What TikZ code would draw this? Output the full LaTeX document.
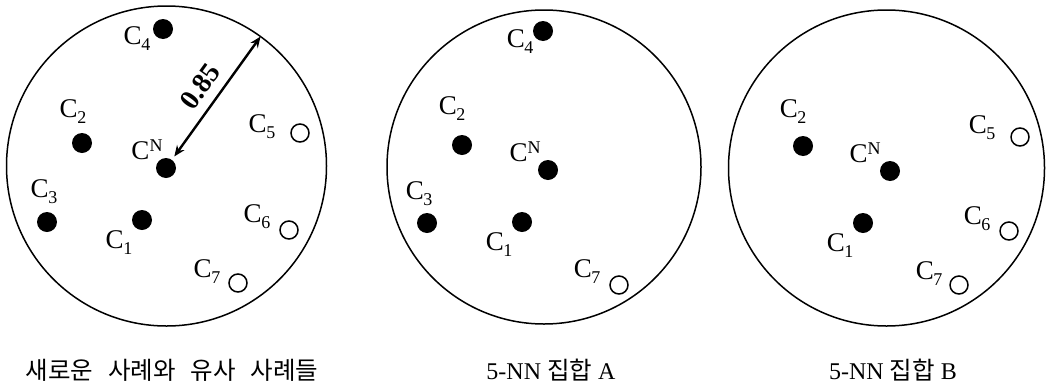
\documentclass[tikz,border=0pt]{standalone}
\usepackage{fontspec}
\setmainfont{Liberation Serif}
\newfontfamily\krfont{Noto Sans CJK KR}
\usetikzlibrary{arrows.meta}
\newcommand{\csub}[1]{C\kern-0.5pt\raisebox{-6pt}{\fontsize{18}{18}\selectfont #1}}
\newcommand{\csup}{C\raisebox{8pt}{\fontsize{18}{18}\selectfont N}}
\newcommand{\kr}[1]{{\krfont\fontsize{24.5}{24.5}\selectfont #1}}
\newcommand{\ksp}{\hspace{15pt}}
\begin{document}
\begin{tikzpicture}[x=1pt,y=-1pt,
  bigc/.style={circle,draw,line width=1.5pt,minimum size=#1,inner sep=0,outer sep=0},
  fdot/.style={circle,fill=black,minimum size=20pt,inner sep=0},
  odot/.style={circle,draw,line width=1.5pt,minimum size=18pt,inner sep=0},
  lab/.style={font=\fontsize{27}{27}\selectfont,inner sep=0},
  captxt/.style={font=\fontsize{24}{24}\selectfont,inner sep=0}]
\useasboundingbox (0,0) rectangle (1048,386);

% ---- circle 1
\node[bigc=320pt] (k1) at (166.5,166) {};
\node[fdot] (a4) at (163,29) {};
\node[lab] (la4) at (137,39) {\csub{4}};
\node[fdot] (a2) at (82,143) {};
\node[lab] (la2) at (73,112) {\csub{2}};
\node[fdot] (an) at (166,168) {};
\node[lab] (lan) at (147,150) {\csup};
\node[fdot] (a3) at (47,222) {};
\node[lab] (la3) at (44,192) {\csub{3}};
\node[fdot] (a1) at (142,220) {};
\node[lab] (la1) at (119,243) {\csub{1}};
\node[odot] (a5) at (300,133) {};
\node[lab] (la5) at (262,127) {\csub{5}};
\node[odot] (a6) at (289,230) {};
\node[lab] (la6) at (257,217) {\csub{6}};
\node[odot] (a7) at (238,283) {};
\node[lab] (la7) at (207,272) {\csub{7}};
\draw[line width=2.4pt,{Stealth[length=11pt,width=9pt]}-{Stealth[length=11pt,width=9pt]},shorten <=4pt]
  (an) -- node[pos=0.5,sloped,above=9pt,inner sep=0,font=\bfseries\fontsize{28}{28}\selectfont] (lr) {0.85} (k1.54.5);

% ---- circle 2
\node[bigc=314pt] (k2) at (544,167) {};
\node[fdot] (b4) at (543,31) {};
\node[lab] (lb4) at (520,42) {\csub{4}};
\node[fdot] (b2) at (462,145) {};
\node[lab] (lb2) at (452,109) {\csub{2}};
\node[fdot] (bn) at (548,170) {};
\node[lab] (lbn) at (525,152) {\csup};
\node[fdot] (b3) at (427,223) {};
\node[lab] (lb3) at (419,194) {\csub{3}};
\node[fdot] (b1) at (522,222) {};
\node[lab] (lb1) at (499,245) {\csub{1}};
\node[odot] (b7) at (619,285) {};
\node[lab] (lb7) at (587,272) {\csub{7}};

% ---- circle 3
\node[bigc=316pt] (k3) at (886.5,168) {};
\node[fdot] (c2) at (803,146) {};
\node[lab] (lc2) at (793,112) {\csub{2}};
\node[fdot] (cn) at (890,171) {};
\node[lab] (lcn) at (865,153) {\csup};
\node[fdot] (c1) at (863,223) {};
\node[lab] (lc1) at (840,246) {\csub{1}};
\node[odot] (c5) at (1020,137) {};
\node[lab] (lc5) at (982,128) {\csub{5}};
\node[odot] (c6) at (1009,231) {};
\node[lab] (lc6) at (977,219) {\csub{6}};
\node[odot] (c7) at (959,285) {};
\node[lab] (lc7) at (929,274) {\csub{7}};

% ---- captions
\node[captxt] (t1) at (172,370) {\kr{새로운\ksp 사례와\ksp 유사\ksp 사례들}};
\node[captxt] (t2) at (551,370) {5-NN \kr{집합} A};
\node[captxt] (t3) at (893,370) {5-NN \kr{집합} B};
\end{tikzpicture}
\end{document}
